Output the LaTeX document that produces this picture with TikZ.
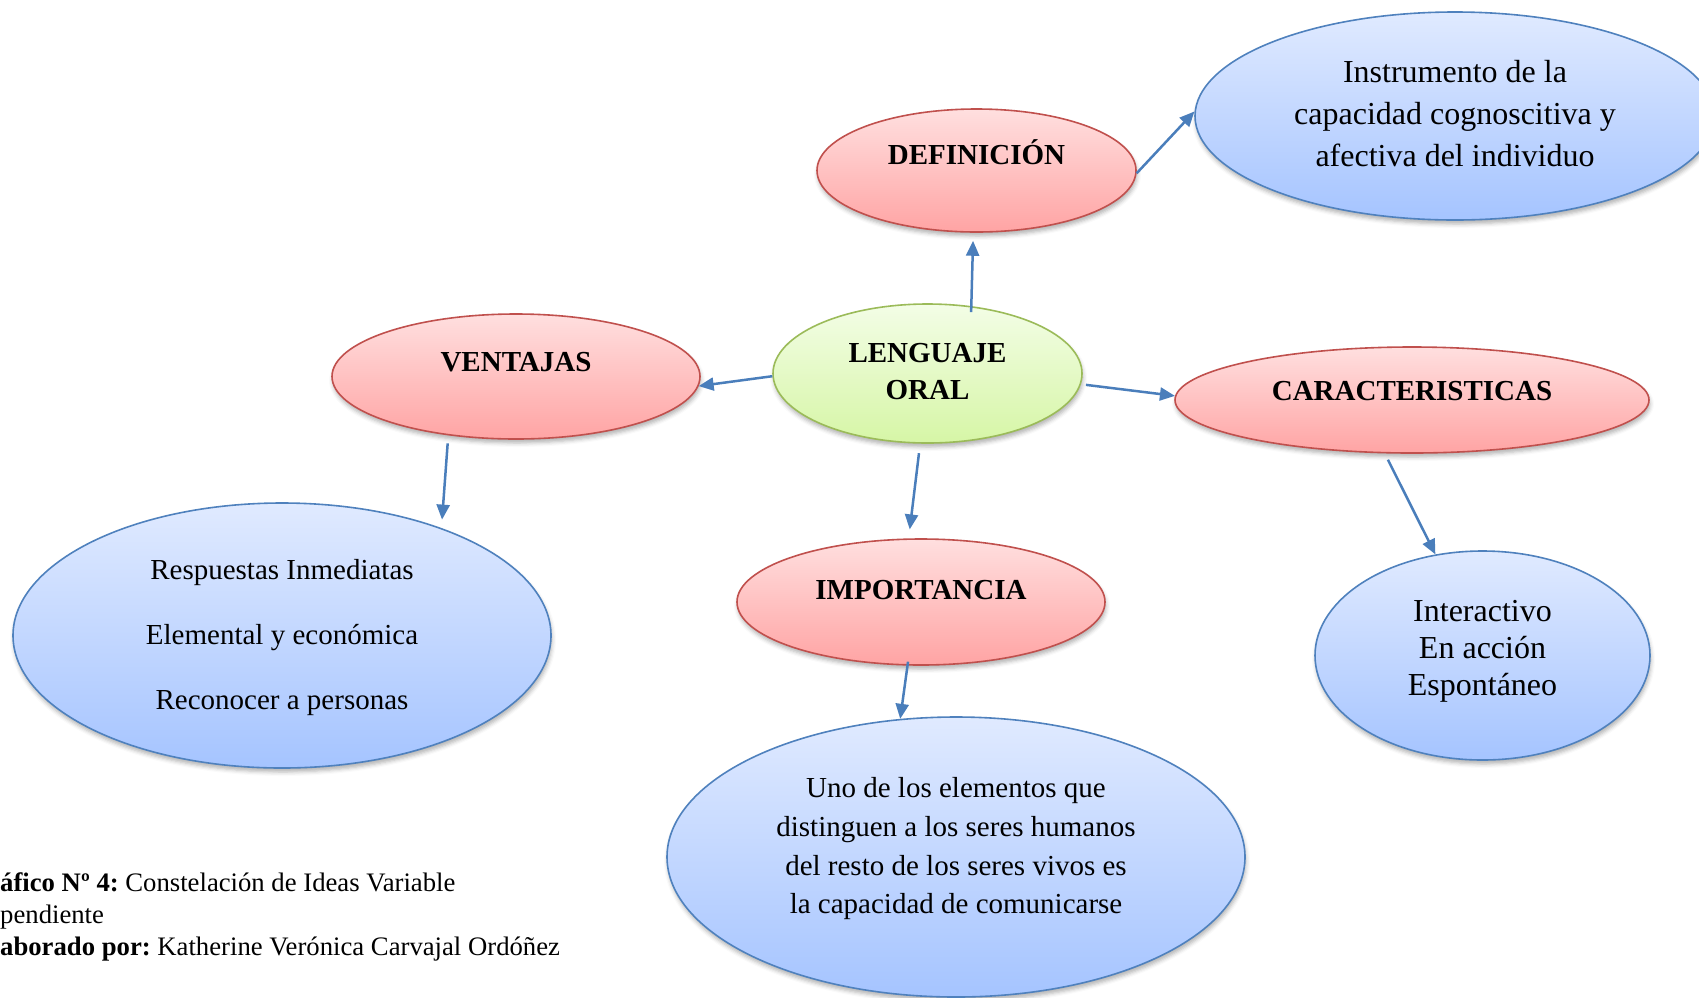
\documentclass[tikz,border=0pt]{standalone}
\usepackage{fontspec}
\setmainfont{Liberation Serif}
\usetikzlibrary{arrows.meta,shadows.blur,shapes.geometric}

\definecolor{redline}{HTML}{C0504D}
\definecolor{redtop}{HTML}{FFDFDF}
\definecolor{redbot}{HTML}{FFA4A4}
\definecolor{greenline}{HTML}{9BBB59}
\definecolor{greentop}{HTML}{F3FDE6}
\definecolor{greenbot}{HTML}{D6F6A6}
\definecolor{blueline}{HTML}{4F81BD}
\definecolor{bluetop}{HTML}{E0EAFF}
\definecolor{bluebot}{HTML}{A5C4FF}
\definecolor{arrowblue}{HTML}{4A7EBB}

% centred lines, the optional space below lifts the text
\newcommand{\ovaltext}[2][0pt]{\begin{tabular}{@{}c@{}}#2\\[#1]\end{tabular}}
\frenchspacing

\begin{document}
\begin{tikzpicture}[x=1pt,y=-1pt,>={Triangle[length=15pt,width=13pt]},
    bubble/.style={ellipse,inner sep=0pt,line width=1.6pt,
        blur shadow={shadow xshift=1pt,shadow yshift=-4pt,shadow blur radius=4pt,shadow opacity=30}},
    redbub/.style={bubble,draw=redline,top color=redtop,bottom color=redbot,
        font=\fontsize{29}{37.3}\selectfont\bfseries},
    greenbub/.style={bubble,draw=greenline,top color=greentop,bottom color=greenbot,
        font=\fontsize{29}{37.3}\selectfont\bfseries},
    bluebub/.style={bubble,draw=blueline,top color=bluetop,bottom color=bluebot},
    arr/.style={->,draw=arrowblue,line width=2.5pt},
    capt/.style={anchor=base west,inner sep=0pt,font=\fontsize{26.7}{31.5}\selectfont}]

    \useasboundingbox (0,0) rectangle (1699,997);

    % the centre
    \node[greenbub,minimum width=309pt,minimum height=139pt] (lo) at (927.5,373.5)
        {\ovaltext{LENGUAJE\\ORAL}};

    % the four branches
    \node[redbub,minimum width=319pt,minimum height=123pt] (def) at (976.5,170.5)
        {\ovaltext[27pt]{DEFINICIÓN}};
    \node[redbub,minimum width=368pt,minimum height=125pt] (vent) at (516,376.5)
        {\ovaltext[25pt]{VENTAJAS}};
    \node[redbub,minimum width=474pt,minimum height=106pt] (car) at (1412,400)
        {\ovaltext[14pt]{CARACTERISTICAS}};
    \node[redbub,minimum width=368pt,minimum height=126pt] (imp) at (921,602)
        {\ovaltext[20pt]{IMPORTANCIA}};

    % the ideas of each branch
    \node[bluebub,minimum width=520pt,minimum height=208pt,font=\fontsize{32}{41.7}\selectfont] (instr) at (1455,116)
        {\ovaltext{Instrumento de la\\capacidad cognoscitiva y\\afectiva del individuo}};
    \node[bluebub,minimum width=538pt,minimum height=265pt,font=\fontsize{29}{45}\selectfont] (resp) at (282,635.5)
        {\ovaltext{Respuestas Inmediatas\\[20pt]Elemental y económica\\[20pt]Reconocer a personas}};
    \node[bluebub,minimum width=335pt,minimum height=209pt,font=\fontsize{32}{37.2}\selectfont] (inter) at (1482.5,655.5)
        {\ovaltext[9pt]{Interactivo\\En acción\\Espontáneo}};
    \node[bluebub,minimum width=578pt,minimum height=280pt,font=\fontsize{29}{38.7}\selectfont] (uno) at (956,857)
        {\ovaltext[18pt]{Uno de los elementos que\\distinguen a los seres humanos\\del resto de los seres vivos es\\la capacidad de comunicarse}};

    % the arrows
    \draw[arr,shorten <=-6pt,shorten >=8pt] (lo.57) -- (def.267);
    \draw[arr] (def.-1) -- (instr.179);
    \draw[arr] (lo.181) -- (vent.357);
    \draw[arr,shorten <=5pt] (lo.-4) -- (car.179);
    \draw[arr,shorten <=9.5pt,shorten >=9pt] (lo.264) -- (imp.101);
    \draw[arr,shorten <=8pt,shorten >=8.4pt] (vent.221) -- (resp.34);
    \draw[arr,shorten <=7pt] (car.243) -- (inter.115);
    \draw[arr,shorten <=-4pt] (imp.258) -- (uno.112);

    % the caption
    \node[capt] (cap1) at (0,891) {\textbf{áfico Nº 4:} Constelación de Ideas Variable};
    \node[capt] (cap2) at (0,923) {pendiente};
    \node[capt] (cap3) at (0,955) {\textbf{aborado por:} Katherine Verónica Carvajal Ordóñez};
\end{tikzpicture}
\end{document}
